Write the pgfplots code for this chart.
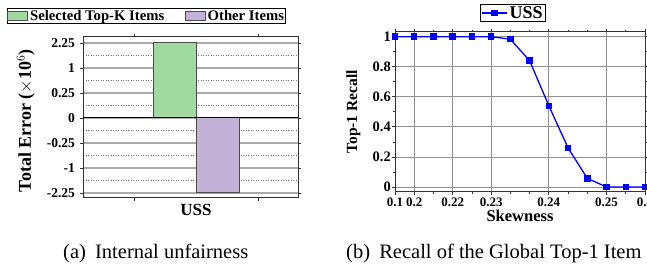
\documentclass[border=0pt]{standalone}
\usepackage{pgfplots}
\pgfplotsset{compat=1.18}
\usepackage{fontspec}
\setmainfont{Liberation Serif}
\definecolor{barG}{RGB}{160,218,160}
\definecolor{barP}{RGB}{194,178,216}
\definecolor{gridG}{RGB}{170,170,170}
\pgfplotsset{
  mypatch/.style={legend image code/.code={\draw[##1] (0pt,-4.6pt) rectangle (20pt,4.6pt);}},
}
\begin{document}
\begin{tikzpicture}
\path[use as bounding box] (0,0) rectangle (647pt,267pt);
% ---------------- (a) ----------------
\begin{axis}[
  at={(83pt,69pt)}, anchor=south west, scale only axis,
  width=215pt, height=161pt,
  xmin=-1.823, xmax=1.645, ymin=-3.2, ymax=3.24,
  xtick={0}, xticklabels={USS},
  minor xtick={-1,1},
  ytick={-3,-2,-1,0,1,2,3},
  yticklabels={-2.25,-1,-0.25,0,0.25,1,2.25},
  minor ytick={-2.5,-1.5,-0.5,0.5,1.5,2.5},
  ymajorgrids, yminorgrids,
  major grid style={gridG, line width=1.3pt},
  minor grid style={black!55, dash pattern=on 1.2pt off 1.3pt, line width=0.6pt},
  axis line style={black!80, line width=1pt},
  tick align=outside, major tick length=3pt, minor tick length=3pt,
  minor y tick style={draw=none},
  major x tick style={draw=none},
  tick style={black!80, line width=0.8pt},
  /pgf/number format/assume math mode=true,
  yticklabel style={font=\fontsize{13.5}{14}\selectfont\bfseries, xshift=-1.5pt},
  xticklabel style={font=\fontsize{17}{18}\selectfont\bfseries},
  ylabel={Total Error ($\times$10$^{6}$)},
  ylabel style={font=\fontsize{18}{19}\selectfont\bfseries, at={(rel axis cs:-0.242,0.48)}, anchor=base},
  legend style={at={(-0.3535,1.180)}, anchor=north west, draw=black, line width=0.8pt,
    inner xsep=0pt, inner ysep=1pt,
    font=\fontsize{14.7}{15}\selectfont\bfseries,
    nodes={inner xsep=1.7pt, inner ysep=0.5pt},
    /tikz/every even column/.append style={column sep=19pt}},
  legend columns=2, legend cell align=left,
]
\addplot[ybar, bar width=43pt, bar shift=-21.5pt, fill=barG, draw=black!70, line width=1pt, mypatch] coordinates {(0,3)};
\addlegendentry{Selected Top-K Items}
\addplot[ybar, bar width=43pt, bar shift=21.5pt, fill=barP, draw=black!70, line width=1pt, mypatch] coordinates {(0,-3)};
\addlegendentry{Other Items}
\draw[black, line width=1pt] (axis cs:-1.823,0) -- (axis cs:1.645,0);
\end{axis}
% ---------------- (b) ----------------
\begin{axis}[
  at={(395pt,75pt)}, anchor=south west, scale only axis,
  width=250pt, height=160.3pt,
  xmin=0, xmax=13, ymin=-0.033, ymax=1.033,
  xtick={0,1,3,5,8,11,13}, xticklabels={0.1,0.2,0.22,0.23,0.24,0.25,0.4},
  minor xtick={2,4,6,7,9,10,12},
  ytick={0,0.2,0.4,0.6,0.8,1}, yticklabels={0,0.2,0.4,0.6,0.8,1},
  minor ytick={0.1,0.3,0.5,0.7,0.9},
  xmajorgrids, ymajorgrids,
  major grid style={gridG!85!black, line width=0.9pt},
  axis line style={black!80, line width=1pt},
  tick align=outside, major tick length=3pt, minor tick length=2pt,
  tick style={black!80, line width=0.8pt},
  /pgf/number format/assume math mode=true,
  yticklabel style={font=\fontsize{14.5}{15}\selectfont\bfseries, inner xsep=1pt},
  xticklabel style={font=\fontsize{13}{14}\selectfont\bfseries, inner ysep=1pt, yshift=-1.5pt},
  xlabel={Skewness},
  xlabel style={font=\fontsize{16.5}{17}\selectfont\bfseries, at={(rel axis cs:0.5,-0.181)}, anchor=base},
  ylabel={Top-1 Recall},
  ylabel style={font=\fontsize{15.5}{16}\selectfont\bfseries, at={(rel axis cs:-0.152,0.5)}, anchor=base},
  clip mode=individual,
  legend style={at={(0.472,1.173)}, anchor=north, draw=black, line width=0.8pt,
    inner xsep=1pt, inner ysep=1pt,
    font=\fontsize{18}{19}\selectfont\bfseries,
    nodes={inner xsep=2pt, inner ysep=1pt}},
  legend image code/.code={\draw[mark repeat=2,mark phase=2,#1] plot coordinates {(0pt,0pt) (12.5pt,0pt) (25pt,0pt)};},
]
\addplot[blue, line width=1.3pt, mark=square*, mark size=2.6pt, mark options={solid}]
  coordinates {(0,1) (1,1) (2,1) (3,1) (4,1) (5,1) (6,0.983) (7,0.84) (8,0.54) (9,0.26) (10,0.058) (11,0) (12,0) (13,0)};
\addlegendentry{USS}
\end{axis}
% captions
\node[anchor=base west, inner sep=0pt, font=\fontsize{20.5}{21}\selectfont] at (63pt,8pt) {(a)\hspace{0.45em}Internal unfairness};
\node[anchor=base west, inner sep=0pt, font=\fontsize{20.5}{21}\selectfont] at (346pt,8pt) {(b)\hspace{0.45em}Recall of the Global Top-1 Item};
\end{tikzpicture}
\end{document}
